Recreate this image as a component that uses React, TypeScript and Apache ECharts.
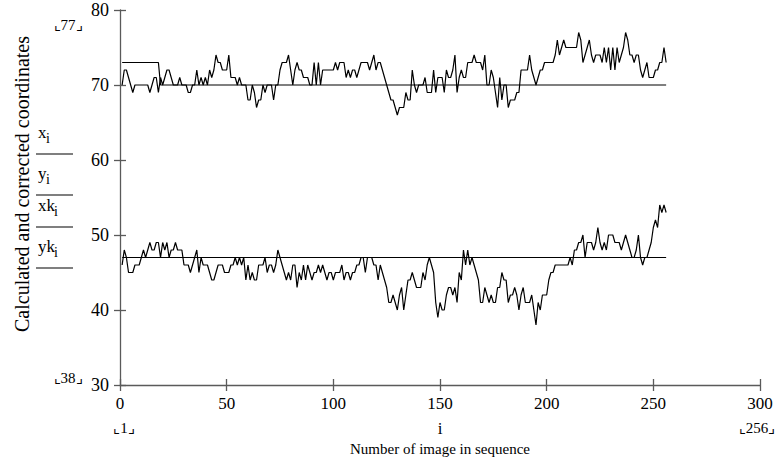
import React, { useEffect, useRef } from "react";
import * as echarts from "echarts";

// Calculated coordinates x_i and y_i, i = 1..256
const xiValues = [
  70,72,72,71,70,69,70,70,70,70,
  70,70,70,69,70,71,71,69,71,70,
  71,72,72,71,70,70,70,71,70,70,
  70,69,69,70,70,72,70,71,70,71,
  70,72,71,72,74,73,73,72,72,72,
  74,71,71,71,70,71,70,70,70,68,
  68,70,69,67,68,68,70,69,70,70,
  70,68,70,70,72,73,73,73,74,72,
  70,72,73,72,72,71,71,71,70,70,
  73,70,73,70,72,72,72,72,72,72,
  73,72,73,73,73,71,72,71,72,72,
  71,72,73,73,73,73,72,73,74,72,
  73,73,72,71,70,69,68,68,67,66,
  67,67,67,69,68,68,72,70,69,70,
  70,70,71,69,69,69,72,69,71,71,
  71,69,72,71,71,72,74,69,71,72,
  71,71,73,73,73,74,73,73,73,72,
  74,70,70,72,71,69,67,71,68,70,
  70,67,68,68,68,69,69,72,72,72,
  72,74,72,71,70,71,72,72,73,73,
  73,73,73,74,76,74,75,76,75,75,
  75,75,75,75,77,76,73,74,75,76,
  74,73,74,74,74,73,75,73,75,72,
  75,72,75,73,74,75,77,76,74,74,
  73,74,74,72,71,72,73,71,71,71,
  72,72,73,73,75,73,
];

const yiValues = [
  46,48,47,45,45,45,46,46,46,47,
  48,47,48,49,48,48,49,49,47,49,
  48,49,47,48,48,49,48,48,48,46,
  46,46,45,46,47,48,45,47,46,46,
  46,45,44,44,45,46,46,46,45,45,
  45,46,46,47,46,47,46,47,44,46,
  44,45,44,44,46,46,46,47,45,46,
  46,45,46,48,47,46,45,44,45,44,
  46,46,43,45,44,46,44,46,45,44,
  45,45,46,45,46,45,44,45,45,44,
  45,45,45,46,44,45,45,44,45,45,
  46,46,47,47,45,47,47,47,46,46,
  44,46,45,44,43,41,41,42,41,40,
  42,43,40,42,44,44,45,44,43,43,
  43,45,44,46,47,46,45,41,39,41,
  40,40,42,43,43,42,43,41,45,44,
  48,46,48,46,47,46,45,44,41,41,
  43,42,41,42,41,41,43,43,45,44,
  44,41,42,42,43,42,40,42,43,41,
  41,41,42,40,38,41,40,42,42,42,
  44,45,45,46,46,46,46,46,46,46,
  47,46,48,48,49,49,50,47,49,49,
  49,48,49,51,49,48,49,48,50,50,
  50,49,49,49,48,49,50,49,48,47,
  47,48,50,47,46,47,47,48,49,51,
  52,51,54,53,54,53,
];

// Corrected coordinates (piecewise constant): [i, value]
const xkPoints = [[1, 73], [18, 73], [19, 70], [256, 70]];
const ykPoints = [[1, 47], [256, 47]];

const legendLabels = [
  { main: "x", sub: "i" },
  { main: "y", sub: "i" },
  { main: "xk", sub: "i" },
  { main: "yk", sub: "i" },
];

const xMin = 0, xMax = 300, xStep = 50;
const yMin = 30, yMax = 80, yStep = 10;

const FAMILY = "Liberation Serif";
const AXIS_FAMILY = "serif";

export default function App() {
  const ref = useRef<HTMLDivElement>(null);
  useEffect(() => {
    if (!ref.current) return;
    const chart = echarts.init(ref.current, null, { renderer: "svg" });
    const xiData = xiValues.map((v, k) => [k + 1, v]);
    const yiData = yiValues.map((v, k) => [k + 1, v]);
    const axisColor = "#5a5a5a";
    const lineStyle = { color: "#000", width: 1.2 };

    const txt = (text: string, x: number, y: number, size: number, extra: any = {}) => ({
      type: "text", x, y,
      style: { text, fontSize: size, fontFamily: FAMILY, fill: "#000", align: "center", verticalAlign: "middle", ...extra },
    });

    const legendGraphics: any[] = [];
    const lineYs = [154, 195, 227, 268];
    legendLabels.forEach((l, idx) => {
      const ly = lineYs[idx];
      const mainW = l.main.length === 1 ? 9 : 17;
      legendGraphics.push({
        type: "text", x: 38, y: ly - 13,
        style: { text: l.main, fontSize: 17, fontFamily: FAMILY, fill: "#000", align: "left", verticalAlign: "bottom" },
      });
      legendGraphics.push({
        type: "text", x: 38 + mainW - 1, y: ly - 9,
        style: { text: l.sub, fontSize: 14, fontFamily: FAMILY, fill: "#000", align: "left", verticalAlign: "bottom" },
      });
      legendGraphics.push({
        type: "line",
        shape: { x1: 36, y1: ly, x2: 73, y2: ly },
        style: { stroke: "#000", lineWidth: 1.2 },
      });
    });

    const axisLabelStyle = (size: number, margin: number) => ({
      show: true, margin, color: "#000", fontSize: size, fontFamily: AXIS_FAMILY,
    });

    chart.setOption({
      animation: false,
      textStyle: { fontFamily: AXIS_FAMILY },
      grid: { left: 120, right: 19, top: 10, bottom: 76, containLabel: false },
      xAxis: [
        {
          type: "value", min: xMin, max: xMax, interval: xStep,
          axisLine: { show: true, lineStyle: { color: axisColor, width: 1.3 } },
          axisTick: { show: true, inside: false, length: 6, lineStyle: { color: axisColor, width: 1.3 } },
          axisLabel: axisLabelStyle(17, 10),
          splitLine: { show: false },
        },
        {
          type: "value", min: xMin, max: xMax, interval: xStep, position: "bottom",
          axisLine: { show: false },
          axisTick: { show: true, inside: true, length: 6, lineStyle: { color: axisColor, width: 1.3 } },
          axisLabel: { show: false },
          splitLine: { show: false },
        },
      ],
      yAxis: [
        {
          type: "value", min: yMin, max: yMax, interval: yStep,
          axisLine: { show: true, lineStyle: { color: axisColor, width: 1.3 } },
          axisTick: { show: true, inside: false, length: 6, lineStyle: { color: axisColor, width: 1.3 } },
          axisLabel: axisLabelStyle(18, 11),
          splitLine: { show: false },
        },
        {
          type: "value", min: yMin, max: yMax, interval: yStep, position: "left",
          axisLine: { show: false },
          axisTick: { show: true, inside: true, length: 6, lineStyle: { color: axisColor, width: 1.3 } },
          axisLabel: { show: false },
          splitLine: { show: false },
        },
      ],
      series: [
        { name: "xi", type: "line", data: xiData, showSymbol: false, symbol: "none", lineStyle, xAxisIndex: 0, yAxisIndex: 0 },
        { name: "yi", type: "line", data: yiData, showSymbol: false, symbol: "none", lineStyle, xAxisIndex: 0, yAxisIndex: 0 },
        { name: "xk", type: "line", data: xkPoints, showSymbol: false, symbol: "none", lineStyle, xAxisIndex: 0, yAxisIndex: 0 },
        { name: "yk", type: "line", data: ykPoints, showSymbol: false, symbol: "none", lineStyle, xAxisIndex: 0, yAxisIndex: 0 },
      ],
      graphic: [
        { ...txt("Calculated and corrected coordinates", 22, 184, 20), rotation: Math.PI / 2 },
        txt("⌞77⌟", 68, 25, 15),
        txt("⌞38⌟", 68, 378, 15),
        txt("⌞1⌟", 124, 428, 15),
        txt("i", 440, 428, 17),
        txt("⌞256⌟", 757, 428, 15),
        txt("Number of image in sequence", 440, 449, 15),
        ...legendGraphics,
      ],
    });
    return () => chart.dispose();
  }, []);
  return <div ref={ref} style={{ position: "absolute", left: 0, top: 0, width: 779, height: 461 }} />;
}
